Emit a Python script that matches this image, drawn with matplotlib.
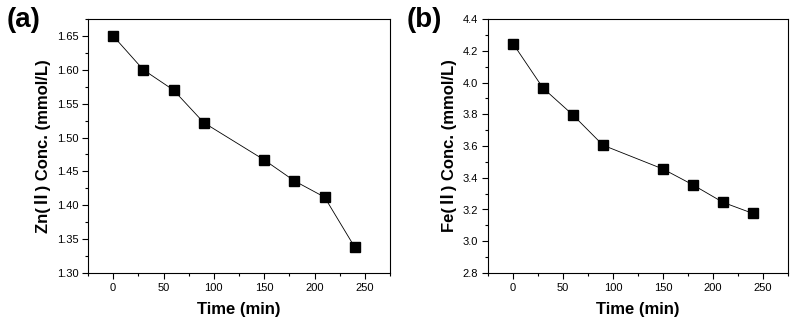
import matplotlib
matplotlib.use("Agg")
import matplotlib.pyplot as plt
from matplotlib.ticker import MultipleLocator

time_min = [0, 30, 60, 90, 150, 180, 210, 240]
zn_conc = [1.650, 1.600, 1.570, 1.522, 1.467, 1.436, 1.412, 1.338]
fe_conc = [4.245, 3.965, 3.795, 3.605, 3.455, 3.355, 3.245, 3.175]

fam = ['Liberation Sans', 'Noto Sans CJK KR', 'DejaVu Sans']
plt.rcParams['font.family'] = fam

fig = plt.figure(figsize=(7.92, 3.22), dpi=100)
W, H = 792, 322

def make_ax(left, right, top, bottom):
    return fig.add_axes([left / W, 1 - bottom / H, (right - left) / W, (bottom - top) / H])

axa = make_ax(88, 390, 19, 273)
axb = make_ax(488, 788, 19, 273)

panels = [
    (axa, zn_conc, (1.30, 1.675), 0.05, 0.025, "Zn(Ⅱ) Conc. (mmol/L)", "{:.2f}", "(a)", 7),
    (axb, fe_conc, (2.8, 4.4), 0.2, 0.1, "Fe(Ⅱ) Conc. (mmol/L)", "{:.1f}", "(b)", 407),
]

for ax, vals, ylim, major, minor, ylabel, fmt, tag, tagx in panels:
    ax.plot(time_min, vals, color='black', lw=0.6, marker='s', markersize=7.2,
            markerfacecolor='black', markeredgecolor='black')
    ax.set_xlim(-25, 275)
    ax.set_ylim(*ylim)
    ax.xaxis.set_major_locator(MultipleLocator(50))
    ax.xaxis.set_minor_locator(MultipleLocator(25))
    ax.yaxis.set_major_locator(MultipleLocator(major))
    ax.yaxis.set_minor_locator(MultipleLocator(minor))
    ax.yaxis.set_major_formatter(plt.FuncFormatter(lambda v, p, f=fmt: f.format(v)))
    ax.tick_params(which='major', direction='out', length=4, width=0.8, labelsize=8,
                   top=False, right=False, colors='black', pad=3)
    ax.tick_params(which='minor', direction='out', length=2.5, width=0.8,
                   top=False, right=False)
    for s in ax.spines.values():
        s.set_linewidth(0.8)
    ax.set_xlabel("Time (min)", fontsize=12, fontweight='bold', labelpad=7)
    ax.set_ylabel(ylabel, fontsize=12, fontweight='bold', labelpad=4)
    fig.text(tagx / W, 1 - 20 / H, tag, fontsize=20, fontweight='bold',
             va='center', ha='left')

fig.savefig("out.png", dpi=100)
